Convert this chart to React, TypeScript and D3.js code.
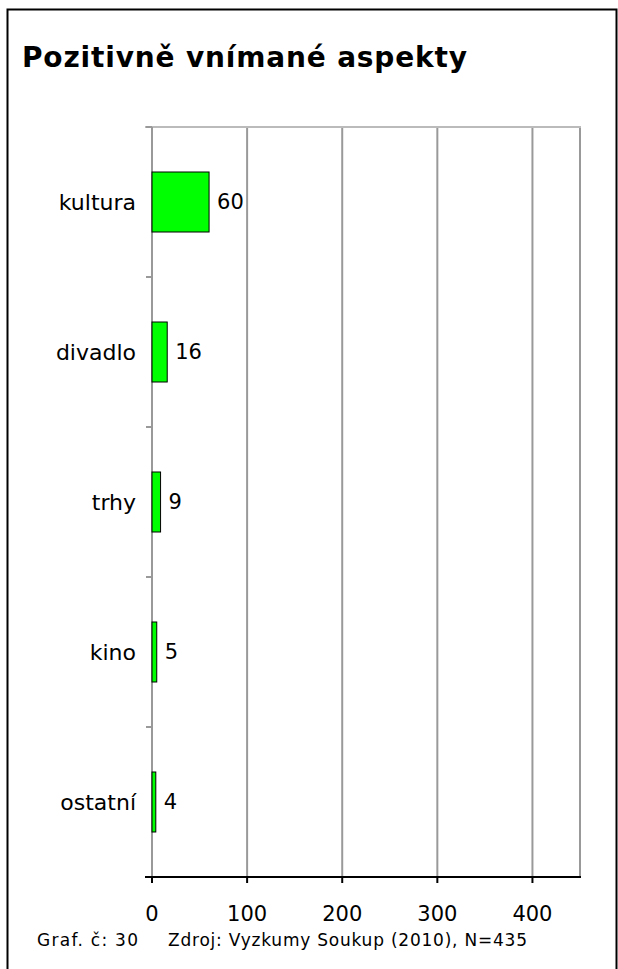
import React, { useEffect, useRef } from 'react';
import * as d3 from 'd3';

const categories = ['kultura', 'divadlo', 'trhy', 'kino', 'ostatní'];
const values = [60, 16, 9, 5, 4];
const xTicks = [0, 100, 200, 300, 400];
const title = 'Pozitivně vnímané aspekty';
const footLeft = 'Graf. č: 30';
const footRight = 'Zdroj: Vyzkumy Soukup (2010), N=435';

const App = () => {
  const ref = useRef<SVGSVGElement>(null);

  useEffect(() => {
    const svg = d3.select(ref.current);
    svg.selectAll('*').remove();
    const font = 'DejaVu Sans, Verdana, sans-serif';

    // outer frame
    svg.append('rect')
      .attr('x', 7.5).attr('y', 9.5)
      .attr('width', 609).attr('height', 1000)
      .attr('fill', 'white').attr('stroke', '#000').attr('stroke-width', 2);

    svg.append('text')
      .attr('x', 22).attr('y', 67)
      .attr('font-family', font).attr('font-weight', 'bold')
      .attr('font-size', 28)
      .attr('textLength', 445).attr('lengthAdjust', 'spacing')
      .text(title);

    const left = 152, right = 580, top = 127, bottom = 877;

    const x = d3.scaleLinear().domain([0, 450]).range([left, right]);
    const y = d3.scaleBand().domain(categories).range([top, bottom]).paddingInner(0.6).paddingOuter(0.3);

    // grid
    svg.append('g').selectAll('line')
      .data(xTicks.slice(1))
      .enter().append('line')
      .attr('x1', (d) => x(d)).attr('x2', (d) => x(d))
      .attr('y1', top).attr('y2', bottom)
      .attr('stroke', '#999').attr('stroke-width', 2);
    svg.append('line')
      .attr('x1', right).attr('x2', right).attr('y1', top).attr('y2', bottom)
      .attr('stroke', '#999').attr('stroke-width', 2);
    svg.append('line')
      .attr('x1', left - 7).attr('x2', right + 1).attr('y1', top).attr('y2', top)
      .attr('stroke', '#bbb').attr('stroke-width', 2);

    // category axis (left) with separator ticks
    svg.append('line')
      .attr('x1', left).attr('x2', left).attr('y1', top).attr('y2', bottom)
      .attr('stroke', '#999').attr('stroke-width', 2);
    const seps = d3.range(categories.length + 1).map((i) => top + i * (bottom - top) / categories.length);
    svg.append('g').selectAll('line')
      .data(seps)
      .enter().append('line')
      .attr('x1', left - 6).attr('x2', left)
      .attr('y1', (d) => d).attr('y2', (d) => d)
      .attr('stroke', '#999').attr('stroke-width', 2);

    const center = (c: string) => (y(c) as number) + y.bandwidth() / 2;

    svg.append('g').selectAll('text')
      .data(categories)
      .enter().append('text')
      .attr('x', left - 16)
      .attr('y', (d) => center(d))
      .attr('dy', '0.35em')
      .attr('text-anchor', 'end')
      .attr('font-family', font).attr('font-size', 22)
      .text((d) => d);

    // bars
    svg.append('g').selectAll('rect')
      .data(values)
      .enter().append('rect')
      .attr('x', x(0))
      .attr('y', (d, i) => y(categories[i]) as number)
      .attr('width', (d) => x(d) - x(0))
      .attr('height', y.bandwidth())
      .attr('fill', '#00ff00').attr('stroke', '#000').attr('stroke-width', 1);

    svg.append('g').selectAll('text')
      .data(values)
      .enter().append('text')
      .attr('x', (d) => x(d) + 8)
      .attr('y', (d, i) => center(categories[i]))
      .attr('dy', '0.35em')
      .attr('font-family', font).attr('font-size', 21)
      .text((d) => d);

    // bottom axis
    svg.append('line')
      .attr('x1', left - 7).attr('x2', right + 1).attr('y1', bottom).attr('y2', bottom)
      .attr('stroke', '#000').attr('stroke-width', 2);
    svg.append('g').selectAll('line')
      .data(xTicks)
      .enter().append('line')
      .attr('x1', (d) => x(d)).attr('x2', (d) => x(d))
      .attr('y1', bottom).attr('y2', bottom + 6)
      .attr('stroke', '#000').attr('stroke-width', 2);
    svg.append('g').selectAll('text')
      .data(xTicks)
      .enter().append('text')
      .attr('x', (d) => x(d))
      .attr('y', bottom + 44)
      .attr('text-anchor', 'middle')
      .attr('font-family', font).attr('font-size', 21)
      .text((d) => d);

    svg.append('text')
      .attr('x', 37).attr('y', 946)
      .attr('font-family', font).attr('font-size', 17)
      .attr('textLength', 101).attr('lengthAdjust', 'spacing')
      .text(footLeft);
    svg.append('text')
      .attr('x', 168).attr('y', 946)
      .attr('font-family', font).attr('font-size', 17)
      .attr('textLength', 359).attr('lengthAdjust', 'spacing')
      .text(footRight);
  }, []);

  return (
    <svg ref={ref} width={618} height={969}
      style={{ position: 'absolute', left: 0, top: 0, background: 'white' }} />
  );
};

export default App;
